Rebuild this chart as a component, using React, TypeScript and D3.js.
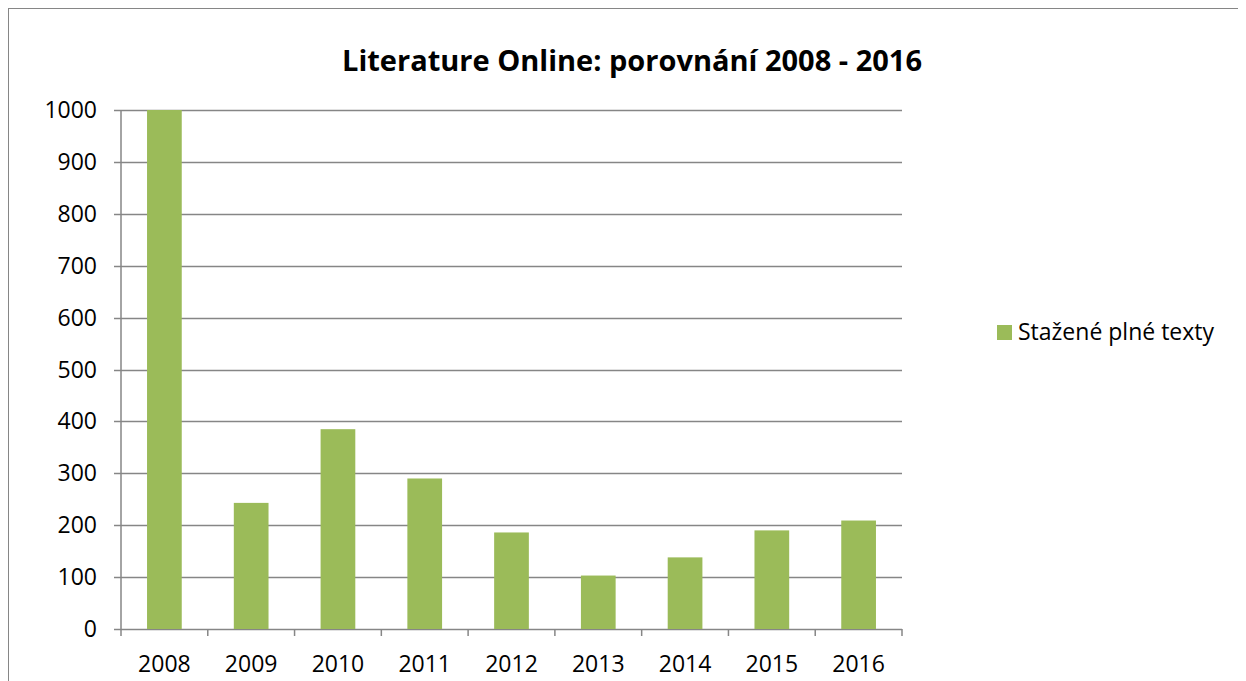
import React from 'react';
import * as d3 from 'd3';

const years = ['2008', '2009', '2010', '2011', '2012', '2013', '2014', '2015', '2016'];
const downloads = [1000, 243, 385, 290, 186, 103, 138, 190, 209];
const yTicks = [0, 100, 200, 300, 400, 500, 600, 700, 800, 900, 1000];
const seriesName = 'Stažené plné texty';
const title = 'Literature Online: porovnání 2008 - 2016';

const width = 1240;
const height = 680;
const plot = { left: 113, top: 102, right: 894, bottom: 621 };
const font = '"Open Sans", "Noto Sans", sans-serif';
const barColor = '#9BBB59';
const gridColor = '#868686';

const App = () => {
  const x = d3
    .scaleBand<string>()
    .domain(years)
    .range([plot.left, plot.right])
    .paddingInner(0.6)
    .paddingOuter(0.3);
  const y = d3.scaleLinear().domain([0, 1000]).range([plot.bottom, plot.top]);
  const step = x.step();
  // category boundaries for the tick marks under the axis
  const boundaries = d3.range(years.length + 1).map(i => plot.left + i * step);

  return (
    <svg width={width} height={height} style={{ display: 'block' }}>
      <rect x={0.5} y={0.5} width={width + 5} height={height + 5} fill="#fff" stroke={gridColor} strokeWidth={1} />
      <text
        x={624}
        y={63}
        textAnchor="middle"
        fontFamily={font}
        fontWeight="bold"
        fontSize={29}
        fill="#000"
      >
        {title}
      </text>

      {yTicks.map(t => (
        <g key={t}>
          <line
            x1={plot.left - 7}
            x2={plot.right}
            y1={Math.round(y(t)) + 0.5}
            y2={Math.round(y(t)) + 0.5}
            stroke={gridColor}
            strokeWidth={1.5}
          />
          <text
            x={plot.left - 24}
            y={y(t)}
            dy="0.35em"
            textAnchor="end"
            fontFamily={font}
            fontSize={23}
            fill="#000"
          >
            {t}
          </text>
        </g>
      ))}

      {years.map((yr, i) => (
        <rect
          key={yr}
          x={x(yr)}
          y={y(downloads[i])}
          width={x.bandwidth()}
          height={plot.bottom - y(downloads[i])}
          fill={barColor}
        />
      ))}

      <line x1={plot.left} x2={plot.left} y1={plot.top} y2={plot.bottom} stroke={gridColor} strokeWidth={1.5} />
      {boundaries.map((b, i) => (
        <line key={i} x1={b} x2={b} y1={plot.bottom} y2={plot.bottom + 7} stroke={gridColor} strokeWidth={1.5} />
      ))}
      {years.map(yr => (
        <text
          key={yr}
          x={(x(yr) as number) + x.bandwidth() / 2}
          y={664}
          textAnchor="middle"
          fontFamily={font}
          fontSize={23}
          fill="#000"
        >
          {yr}
        </text>
      ))}

      <rect x={989} y={317} width={15} height={15} fill={barColor} />
      <text x={1010} y={332} fontFamily={font} fontSize={23} fill="#000">
        {seriesName}
      </text>
    </svg>
  );
};

export default App;
